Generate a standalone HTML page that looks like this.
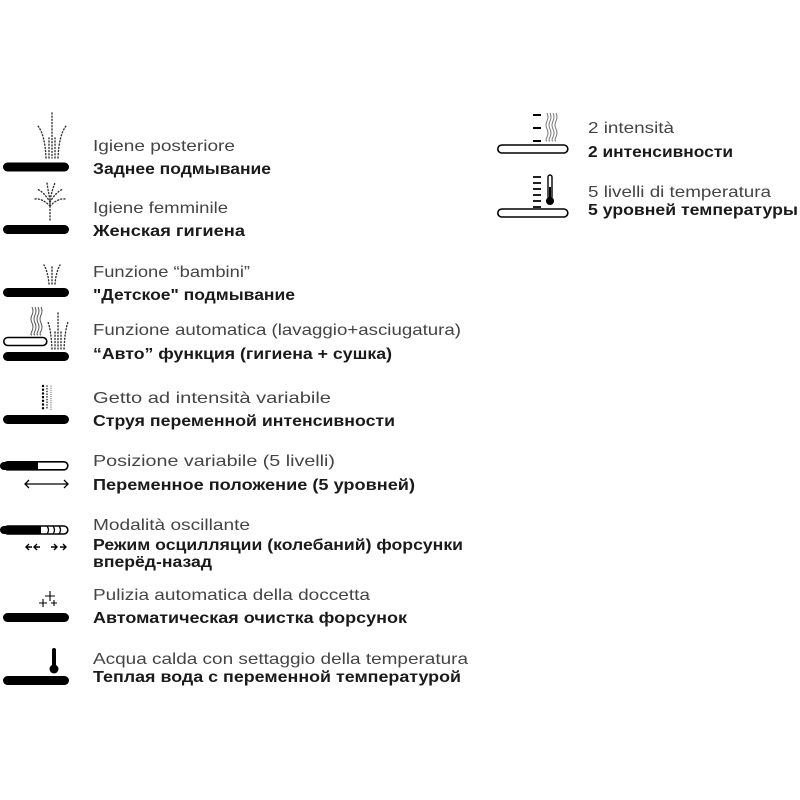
<!DOCTYPE html>
<html><head><meta charset="utf-8"><style>
html,body{margin:0;padding:0;background:#fff;}
svg{display:block}
.g{font-family:"Liberation Sans",sans-serif;font-size:16px;fill:#444;}
.b{font-family:"Liberation Sans",sans-serif;font-size:15.5px;font-weight:bold;fill:#1a1a1a;}
.d{fill:none;stroke:#333;stroke-width:1.4;stroke-dasharray:1 2.2;stroke-linecap:round}
</style></head><body>
<svg width="800" height="800" viewBox="0 0 800 800" xmlns="http://www.w3.org/2000/svg">
<g fill="#000">
<rect x="3" y="162.5" width="66" height="9" rx="4.5"/>
<rect x="3" y="225" width="66" height="9" rx="4.5"/>
<rect x="3" y="288" width="66" height="9" rx="4.5"/>
<rect x="3" y="352" width="66" height="9" rx="4.5"/>
<rect x="3" y="415" width="66" height="9" rx="4.5"/>
<rect x="3" y="613" width="66" height="9" rx="4.5"/>
<rect x="3" y="676" width="66" height="9" rx="4.5"/>
</g>
<!-- spray 1 -->
<path class="d" d="M52 113 V158 M49 158 V138 M55 158 V138 M46 158 Q45 135 38 126 M58 158 Q59 135 66 126"/>
<!-- spray 2 -->
<path class="d" d="M50 220 V202 M50 202 Q44 192 37 189 M50 202 Q56 192 63 189 M50 206 Q42 198 35 199 M50 206 Q58 198 65 199 M50 200 Q48 190 47 183 M50 200 Q52 190 55 183"/>
<!-- spray 3 -->
<path class="d" d="M52 284 V267 M49 284 Q48 272 44 265 M55 284 Q56 272 60 265"/>
<!-- auto -->
<rect x="3.8" y="337.5" width="43" height="8" rx="4" fill="none" stroke="#000" stroke-width="1.6"/>
<path d="M32 307 q2 4 0 8 q-2 4 0 8 q2 4 0 8 q-2 4 0 4 M35 307 q2 4 0 8 q-2 4 0 8 q2 4 0 8 q-2 4 0 4 M38 307 q2 4 0 8 q-2 4 0 8 q2 4 0 8 q-2 4 0 4 M41 307 q2 4 0 8 q-2 4 0 8 q2 4 0 8 q-2 4 0 4" fill="none" stroke="#555" stroke-width="1"/>
<path class="d" d="M58 313 V349 M55 349 V330 M61 349 V330 M52 349 Q51 330 48 322 M64 349 Q65 330 68 322"/>
<!-- intensity -->
<path class="d" d="M43 386 V410" style="stroke:#000;stroke-width:2.4;stroke-dasharray:0.1 3.6"/>
<path class="d" d="M47 386 V410" style="stroke-width:1.6;stroke-dasharray:0.1 2.6"/>
<path class="d" d="M51 386 V410" style="stroke-width:1;stroke-dasharray:0.1 2"/>
<!-- position -->
<rect x="3.8" y="461.8" width="64" height="8" rx="4" fill="#fff" stroke="#000" stroke-width="1.6"/>
<path d="M4 462 H38 V470 H4 a4 4 0 0 1 0 -8z" fill="#000"/>
<path d="M25 484 H68 M29 480 L25 484 L29 488 M64 480 L68 484 L64 488" fill="none" stroke="#000" stroke-width="1.3"/>
<!-- oscillating -->
<rect x="3.8" y="526" width="64" height="8" rx="4" fill="#fff" stroke="#000" stroke-width="1.6"/>
<path d="M4 526 H41 V534 H4 a4 4 0 0 1 0 -8z" fill="#000"/>
<path d="M47 526 q3 4 0 8 M53 526 q3 4 0 8 M59 526 q3 4 0 8" fill="none" stroke="#000" stroke-width="1.3"/>
<path d="M26 547 H32 M29 544 L26 547 L29 550 M34 547 H40 M37 544 L34 547 L37 550 M51 547 H57 M54 544 L57 547 L54 550 M60 547 H66 M63 544 L66 547 L63 550" fill="none" stroke="#000" stroke-width="1.4"/>
<!-- sparkles -->
<path d="M50 591 V601 M45 596 H55 M43 599 V607 M39 603 H47 M54 600 V606 M51 603 H57" stroke="#000" stroke-width="1.1"/>
<!-- thermometer -->
<rect x="52" y="648" width="4" height="20" rx="2" fill="#000"/>
<circle cx="54" cy="669" r="4.5" fill="#000"/>
<!-- right icons -->
<rect x="497.8" y="145" width="70" height="8" rx="4" fill="none" stroke="#000" stroke-width="1.6"/>
<path d="M533 115 H541 M533 128 H541 M533 141 H541" stroke="#000" stroke-width="2"/>
<path d="M547 113 q2 4 0 8 q-2 4 0 8 q2 4 0 8 q-2 4 0 4 M550 113 q2 4 0 8 q-2 4 0 8 q2 4 0 8 q-2 4 0 4 M553 113 q2 4 0 8 q-2 4 0 8 q2 4 0 8 q-2 4 0 4 M556 113 q2 4 0 8 q-2 4 0 8 q2 4 0 8 q-2 4 0 4" fill="none" stroke="#777" stroke-width="1"/>
<rect x="497.8" y="209" width="70" height="8" rx="4" fill="none" stroke="#000" stroke-width="1.6"/>
<path d="M533 177 H541 M533 183 H541 M533 189 H541 M533 195 H541 M533 201 H541 M533 207 H541" stroke="#000" stroke-width="1.8"/>
<rect x="548" y="175" width="4" height="24" rx="2" fill="none" stroke="#000" stroke-width="1.4"/>
<rect x="549" y="187" width="2" height="12" fill="#000"/>
<circle cx="550" cy="201" r="4" fill="#000"/>

<text class="g" x="93" y="151" textLength="142" lengthAdjust="spacingAndGlyphs">Igiene posteriore</text>
<text class="b" x="93" y="174" textLength="178" lengthAdjust="spacingAndGlyphs">Заднее подмывание</text>
<text class="g" x="93" y="213" textLength="135" lengthAdjust="spacingAndGlyphs">Igiene femminile</text>
<text class="b" x="93" y="236" textLength="152" lengthAdjust="spacingAndGlyphs">Женская гигиена</text>
<text class="g" x="93" y="277" textLength="157" lengthAdjust="spacingAndGlyphs">Funzione “bambini”</text>
<text class="b" x="93" y="300" textLength="202" lengthAdjust="spacingAndGlyphs">"Детское" подмывание</text>
<text class="g" x="93" y="335" textLength="368" lengthAdjust="spacingAndGlyphs">Funzione automatica (lavaggio+asciugatura)</text>
<text class="b" x="93" y="359" textLength="299" lengthAdjust="spacingAndGlyphs">“Авто” функция (гигиена + сушка)</text>
<text class="g" x="93" y="403" textLength="238" lengthAdjust="spacingAndGlyphs">Getto ad intensità variabile</text>
<text class="b" x="93" y="426" textLength="302" lengthAdjust="spacingAndGlyphs">Струя переменной интенсивности</text>
<text class="g" x="93" y="466" textLength="242" lengthAdjust="spacingAndGlyphs">Posizione variabile (5 livelli)</text>
<text class="b" x="93" y="490" textLength="322" lengthAdjust="spacingAndGlyphs">Переменное положение (5 уровней)</text>
<text class="g" x="93" y="530" textLength="157" lengthAdjust="spacingAndGlyphs">Modalità oscillante</text>
<text class="b" x="93" y="550" textLength="370" lengthAdjust="spacingAndGlyphs">Режим осцилляции (колебаний) форсунки</text>
<text class="b" x="93" y="567" textLength="119" lengthAdjust="spacingAndGlyphs">вперёд-назад</text>
<text class="g" x="93" y="600" textLength="277" lengthAdjust="spacingAndGlyphs">Pulizia automatica della doccetta</text>
<text class="b" x="93" y="623" textLength="314" lengthAdjust="spacingAndGlyphs">Автоматическая очистка форсунок</text>
<text class="g" x="93" y="664" textLength="375" lengthAdjust="spacingAndGlyphs">Acqua calda con settaggio della temperatura</text>
<text class="b" x="93" y="682" textLength="368" lengthAdjust="spacingAndGlyphs">Теплая вода с переменной температурой</text>
<text class="g" x="588" y="133" textLength="86" lengthAdjust="spacingAndGlyphs">2 intensità</text>
<text class="b" x="588" y="157" textLength="145" lengthAdjust="spacingAndGlyphs">2 интенсивности</text>
<text class="g" x="588" y="197" textLength="183" lengthAdjust="spacingAndGlyphs">5 livelli di temperatura</text>
<text class="b" x="588" y="215" textLength="210" lengthAdjust="spacingAndGlyphs">5 уровней температуры</text>
</svg>
</body></html>
